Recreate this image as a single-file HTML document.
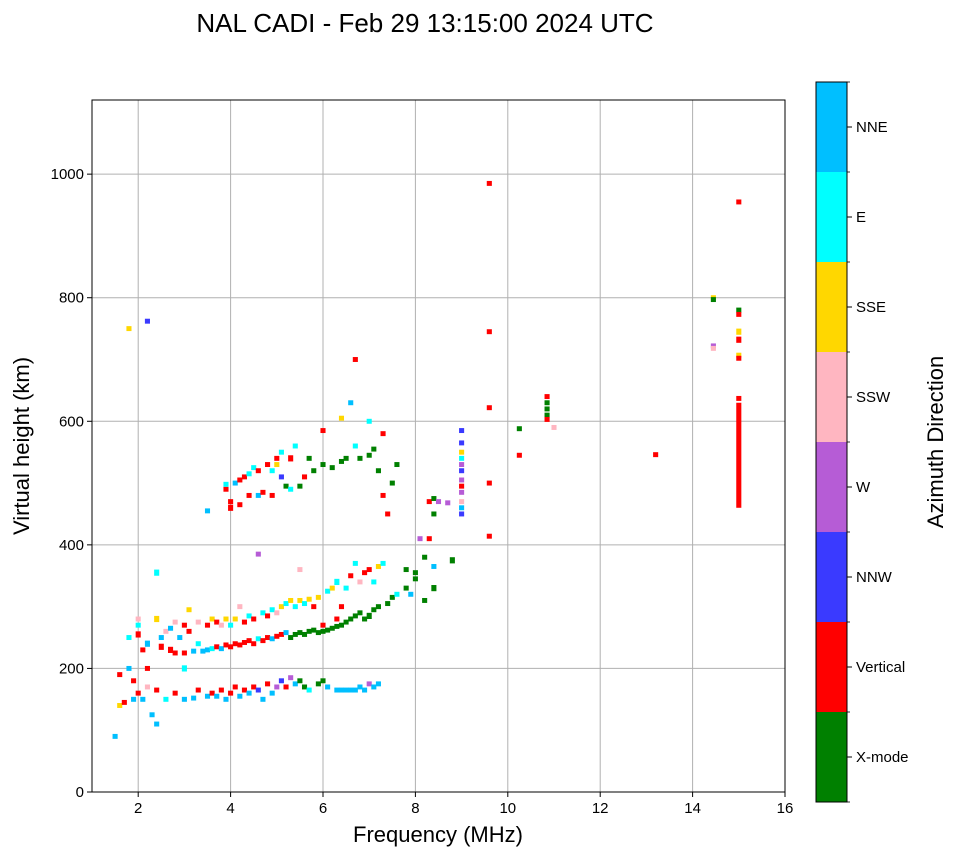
<!DOCTYPE html>
<html><head><meta charset="utf-8"><style>
body{margin:0;background:#fff;}
svg{font-family:"Liberation Sans",sans-serif;}
</style></head><body>
<svg id="chart" width="958" height="857" xmlns="http://www.w3.org/2000/svg">
<text x="425" y="32" font-size="26" text-anchor="middle">NAL CADI - Feb 29 13:15:00 2024 UTC</text>
<g id="grid"></g>
<g id="marks"></g>
<rect x="92" y="100" width="693" height="692" fill="none" stroke="#000" stroke-width="1"/>
<g id="axes"></g>
<text x="438" y="842" font-size="22" text-anchor="middle">Frequency (MHz)</text>
<text transform="translate(29,446) rotate(-90)" font-size="22" text-anchor="middle">Virtual height (km)</text>
<g id="cbar"></g>
<text transform="translate(943,442) rotate(-90)" font-size="22" text-anchor="middle">Azimuth Direction</text>
</svg>
<script>
const xTicks=[2,4,6,8,10,12,14,16];
const yTicks=[0,200,400,600,800,1000];
const dirLabels=["X-mode","Vertical","NNW","W","SSW","SSE","E","NNE"];
const dirColors=["#008000","#ff0000","#3a3aff","#b65cd6","#ffb6c1","#ffd700","#00ffff","#00bfff"];
// echoes: [frequency MHz, virtual height km, direction index, thickness km]
const echoes=[
[1.5,90,7,5],[1.6,140,5,5],[1.6,190,1,5],[1.7,145,1,5],[1.8,200,7,5],[1.8,250,6,5],[1.9,180,1,5],[1.9,150,7,5],[1.8,750,5,4],[2.2,762,2,4],
[2.0,160,1,5],[2.0,255,1,10],[2.0,270,6,5],[2.0,280,4,5],[2.1,230,1,5],[2.1,150,7,5],[2.2,240,7,10],[2.2,200,1,5],[2.2,170,4,5],[2.3,125,7,5],
[2.4,110,7,8],[2.4,165,1,5],[2.4,280,5,10],[2.4,355,6,10],[2.5,235,1,10],[2.5,250,7,5],[2.6,150,6,5],[2.6,260,4,5],[2.7,230,1,10],[2.7,265,7,5],
[2.8,160,1,5],[2.8,225,1,8],[2.8,275,4,5],[2.9,250,7,5],[3.0,150,7,5],[3.0,200,6,10],[3.0,225,1,8],[3.0,270,1,5],[3.1,295,5,5],[3.1,260,1,5],
[3.2,152,7,5],[3.2,228,7,5],[3.3,165,1,5],[3.3,240,6,5],[3.3,275,4,5],[3.4,228,7,8],[3.5,155,7,5],[3.5,230,7,8],[3.5,270,1,5],[3.6,160,1,5],
[3.6,232,6,5],[3.6,280,5,5],[3.7,155,7,5],[3.7,235,1,5],[3.7,275,1,5],[3.8,165,1,5],[3.8,232,7,5],[3.8,270,4,5],[3.9,150,7,5],[3.9,238,1,5],
[3.9,280,5,5],[4.0,160,1,5],[4.0,235,1,8],[4.0,270,6,5],[4.1,170,1,5],[4.1,240,1,5],[4.1,280,5,8],[4.2,155,7,5],[4.2,238,1,5],[4.2,300,4,5],
[4.3,165,1,5],[4.3,242,1,5],[4.3,275,1,5],[4.4,160,7,5],[4.4,245,1,5],[4.4,285,6,5],[4.5,170,1,5],[4.5,240,1,5],[4.5,280,1,5],[4.6,165,2,5],
[4.6,248,6,5],[4.6,385,3,5],[4.7,150,7,5],[4.7,245,1,5],[4.7,290,6,5],[4.8,175,1,5],[4.8,250,1,5],[4.8,285,1,5],[4.9,160,7,5],[4.9,248,7,5],
[4.9,295,6,5],[5.0,170,3,5],[5.0,252,1,5],[5.0,290,4,5],[5.1,180,2,5],[5.1,255,1,5],[5.1,300,5,5],[5.2,170,1,5],[5.2,258,7,5],[5.2,305,6,5],
[5.3,185,3,5],[5.3,250,0,5],[5.3,310,5,5],[5.4,175,7,5],[5.4,255,0,5],[5.4,300,6,5],[5.5,180,0,5],[5.5,258,0,5],[5.5,310,5,5],[5.5,360,4,5],
[5.6,170,0,5],[5.6,255,0,5],[5.6,305,6,5],[5.7,165,6,5],[5.7,260,0,5],[5.7,312,5,5],[5.8,262,0,5],[5.8,300,1,5],[5.9,175,0,5],[5.9,258,0,5],
[5.9,315,5,5],[6.0,180,0,8],[6.0,260,0,5],[6.0,270,1,5],[6.1,170,7,5],[6.1,262,0,5],[6.1,325,6,5],[6.2,265,0,5],[6.2,330,5,5],[6.3,165,7,8],
[6.3,268,0,5],[6.3,280,1,5],[6.3,340,6,10],[6.4,165,7,8],[6.4,270,0,8],[6.4,300,1,5],[6.5,165,7,8],[6.5,275,0,5],[6.5,330,6,5],[6.6,165,7,8],
[6.6,280,0,8],[6.6,350,1,5],[6.7,165,7,8],[6.7,285,0,5],[6.7,370,6,5],[6.8,170,7,8],[6.8,290,0,8],[6.8,340,4,5],[6.9,165,7,8],[6.9,280,0,8],
[6.9,355,1,5],[7.0,175,3,5],[7.0,285,0,10],[7.0,360,1,5],[7.1,170,7,5],[7.1,295,0,8],[7.1,340,6,5],[7.2,175,7,5],[7.2,300,0,8],[7.2,365,5,5],
[7.3,370,6,8],[7.4,305,0,5],[7.5,315,0,5],[7.6,320,6,5],[7.8,330,0,8],[7.8,360,0,5],[7.9,320,7,5],[8.0,345,0,5],[8.0,355,0,5],[8.2,380,0,5],
[8.2,310,0,5],[8.4,330,0,10],[8.4,365,7,8],[8.8,375,0,10],[8.1,410,3,3],[8.3,410,1,3],
[3.5,455,7,3],[3.9,490,1,5],[3.9,498,6,5],[4.0,460,1,10],[4.0,470,1,5],[4.1,500,7,5],[4.2,465,1,5],[4.2,505,1,5],[4.3,510,1,8],[4.4,480,1,5],
[4.4,515,6,5],[4.5,525,6,5],[4.6,480,7,5],[4.6,520,1,5],[4.7,485,1,5],[4.8,530,1,5],[4.9,480,1,5],[4.9,520,6,5],[5.0,530,5,8],[5.0,540,1,5],
[5.1,550,6,5],[5.1,510,2,5],[5.2,495,0,5],[5.3,540,1,10],[5.3,490,6,5],[5.4,560,6,5],[5.5,495,0,5],[5.6,510,1,5],[5.7,540,0,3],[5.8,520,0,5],
[6.0,530,0,5],[6.0,585,1,5],[6.2,525,0,5],[6.4,535,0,5],[6.5,540,0,8],[6.4,605,5,3],[6.6,630,7,3],[6.7,560,6,5],[6.7,700,1,3],[6.8,540,0,5],
[7.0,545,0,5],[7.0,600,6,5],[7.1,555,0,5],[7.2,520,0,3],[7.3,580,1,5],[7.3,480,1,5],[7.4,450,1,8],[7.5,500,0,3],[7.6,530,0,3],
[8.3,470,1,3],[8.4,475,0,5],[8.5,470,3,5],[8.7,468,3,8],[8.4,450,0,3],
[9.0,585,2,3],[9.0,565,2,3],[9.0,550,5,5],[9.0,540,6,3],[9.0,530,3,5],[9.0,520,2,3],[9.0,505,3,3],[9.0,495,1,3],[9.0,485,3,5],[9.0,470,4,3],
[9.0,460,7,8],[9.0,450,2,3],[9.6,985,1,3],[9.6,745,1,3],[9.6,622,1,3],[9.6,500,1,3],[9.6,414,1,3],[10.25,588,0,3],[10.25,545,1,3],
[10.85,640,1,5],[10.85,630,0,3],[10.85,620,0,5],[10.85,610,0,3],[10.85,603,1,5],[11.0,590,4,3],[13.2,546,1,6],
[14.45,800,5,4],[14.45,797,0,2],[14.45,722,3,4],[14.45,718,4,3],
[15.0,955,1,8],[15.0,780,0,4],[15.0,773,1,8],[15.0,745,5,10],[15.0,732,1,10],[15.0,707,5,6],[15.0,702,1,3],[15.0,637,1,6],[15.0,545,1,170]
];
const NS="http://www.w3.org/2000/svg";
const X0=92,X1=785,Y0=792,Y1=100;
const xMin=1,xMax=16,yMin=0,yMax=1120;
const xs=f=>X0+(f-xMin)/(xMax-xMin)*(X1-X0);
const ys=h=>Y0-(h-yMin)/(yMax-yMin)*(Y0-Y1);
function mk(tag,attrs,parent){const e=document.createElementNS(NS,tag);for(const k in attrs)e.setAttribute(k,attrs[k]);parent.appendChild(e);return e;}
const grid=document.getElementById('grid'),axes=document.getElementById('axes'),marks=document.getElementById('marks'),cbar=document.getElementById('cbar');
xTicks.forEach(t=>{const x=xs(t);
 const g=mk('line',{x1:x,x2:x,y1:Y1,y2:Y0,stroke:'#b0b0b0','stroke-width':1},grid);
 
 
 const tk=mk('line',{x1:x,x2:x,y1:Y0,y2:Y0+5,stroke:'#000'},axes);
 
 
 const l=mk('text',{x:x,y:Y0+21,'font-size':15,'text-anchor':'middle'},axes);l.textContent=t;
 
 });
yTicks.forEach(t=>{const y=ys(t);
 const g=mk('line',{x1:X0,x2:X1,y1:y,y2:y,stroke:'#b0b0b0','stroke-width':1},grid);
 
 
 const tk=mk('line',{x1:X0-5,x2:X0,y1:y,y2:y,stroke:'#000'},axes);
 
 
 const l=mk('text',{x:X0-8,y:y+5,'font-size':15,'text-anchor':'end'},axes);l.textContent=t;
 
 });
echoes.forEach(e=>{const [f,h,c,th]=e;const t=Math.max(th,8);
 const x=xs(f-0.055),w=xs(f+0.055)-x;const y=ys(h+t/2),hh=ys(h-t/2)-y;
 const r=mk('rect',{x:x,y:y,width:w,height:Math.max(hh,4),fill:dirColors[c]},marks);
 
 });
const CX=816,CW=31,CT=82,CB=802,seg=(CB-CT)/dirLabels.length;
dirLabels.forEach((d,i)=>{const y=CB-(i+1)*seg;
 const r=mk('rect',{x:CX,y:y,width:CW,height:seg,fill:dirColors[i]},cbar);
 
 
 const tk=mk('line',{x1:CX+CW,x2:CX+CW+5,y1:y+seg/2,y2:y+seg/2,stroke:'#000'},cbar);
 
 
 const l=mk('text',{x:CX+CW+9,y:y+seg/2+5,'font-size':15},cbar);l.textContent=d;
 
 });
for(let i=0;i<=dirLabels.length;i++){const y=CB-i*seg;
 const tk=mk('line',{x1:CX+CW,x2:CX+CW+3,y1:y,y2:y,stroke:'#000','stroke-width':0.8},cbar);
 
 }
const fr=mk('rect',{x:CX,y:CT,width:CW,height:CB-CT,fill:'none',stroke:'#000'},cbar);


</script>
</body></html>
